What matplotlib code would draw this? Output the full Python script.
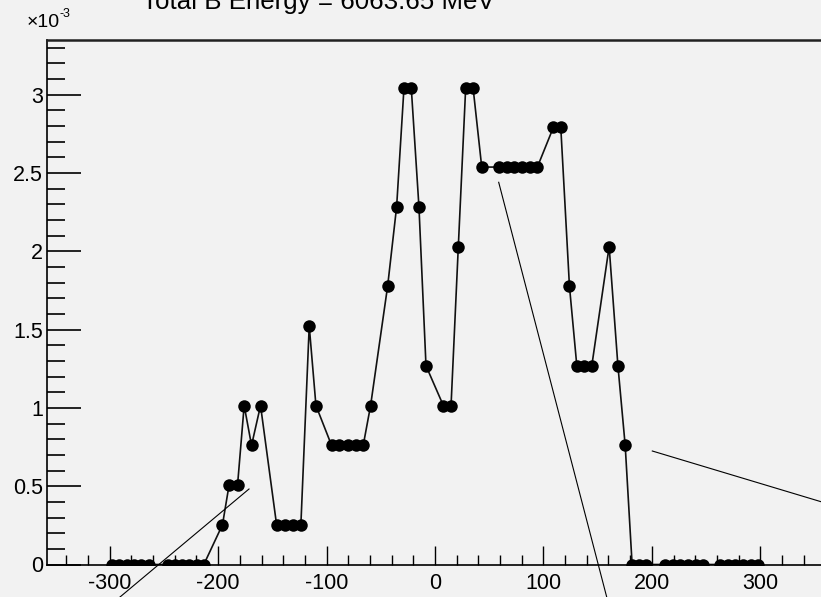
import numpy as np
import matplotlib
matplotlib.use('Agg')
import matplotlib.pyplot as plt
from matplotlib.lines import Line2D
from matplotlib.ticker import MultipleLocator, FuncFormatter

# Positions along the strip (mm) and deposited energy (x 1e-3)
x_pos = [-298.2, -291.3, -284.5, -277.7, -270.8, -264.0,
         -246.5, -239.8, -233.2, -226.5, -219.9, -213.2,
         -196.0, -189.9, -182.1, -176.0, -169.2, -160.9,
         -146.1, -138.5, -131.4, -123.7, -116.0, -109.8,
         -95.4, -88.3, -80.6, -73.2, -66.2, -59.4,
         -43.7, -35.4, -28.6, -21.9, -14.8, -8.3,
         7.7, 14.8, 21.5, 28.3, 35.1, 43.1,
         59.4, 66.2, 73.2, 80.3, 87.7, 94.4,
         109.2, 116.0, 124.0, 130.8, 137.8, 144.6,
         160.6, 168.7, 175.4, 181.8, 188.3, 194.8,
         212.3, 219.3, 226.3, 233.4, 240.4, 247.4,
         263.1, 270.1, 277.1, 284.1, 291.2, 298.2]

energy = [0, 0, 0, 0, 0, 0,
          0, 0, 0, 0, 0, 0,
          0.254, 0.508, 0.508, 1.015, 0.761, 1.015,
          0.254, 0.254, 0.254, 0.254, 1.523, 1.015,
          0.761, 0.761, 0.761, 0.761, 0.761, 1.015,
          1.777, 2.284, 3.045, 3.045, 2.284, 1.269,
          1.015, 1.015, 2.030, 3.045, 3.045, 2.538,
          2.538, 2.538, 2.538, 2.538, 2.538, 2.538,
          2.792, 2.792, 1.777, 1.269, 1.269, 1.269,
          2.030, 1.269, 0.761, 0, 0, 0,
          0, 0, 0, 0, 0, 0,
          0, 0, 0, 0, 0, 0]

title = 'Total B Energy = 6063.65 MeV'

BG = '#f2f2f2'
plt.rcParams['font.family'] = ['Liberation Sans', 'DejaVu Sans']

W, H = 821, 597
fig = plt.figure(figsize=(W / 100, H / 100), dpi=100, facecolor=BG)

# frame in pixel units: left 47, right 823, top 40, bottom 564.5
left, right, top, bottom = 47, 823, 40, 564.5
ax = fig.add_axes([left / W, (H - bottom) / H, (right - left) / W, (bottom - top) / H])
ax.set_facecolor(BG)

ax.plot(x_pos, energy, '-', color='#111111', linewidth=1.2)
ax.plot(x_pos, energy, 'o', color='black', markersize=9, markeredgewidth=0)

span = max(x_pos) - min(x_pos)
ax.set_xlim(min(x_pos) - 0.1 * span, max(x_pos) + 0.1 * span)
ax.set_ylim(0, 1.1 * max(energy))

ax.xaxis.set_major_locator(MultipleLocator(100))
ax.xaxis.set_minor_locator(MultipleLocator(20))
ax.yaxis.set_major_locator(MultipleLocator(0.5))
ax.yaxis.set_minor_locator(MultipleLocator(0.1))
ax.yaxis.set_major_formatter(FuncFormatter(lambda v, p: f'{v:g}'))
ax.xaxis.set_major_formatter(FuncFormatter(lambda v, p: f'{v:g}'))

ax.tick_params(axis='x', which='major', direction='in', length=14, width=1,
               labelsize=15.5, pad=6, top=False)
ax.tick_params(axis='x', which='minor', direction='in', length=7, width=1, top=False)
ax.tick_params(axis='y', which='major', direction='in', length=24.5, width=1.2,
               labelsize=15.5, pad=3, right=False)
ax.tick_params(axis='y', which='minor', direction='in', length=13, width=1.2, right=False)

for s in ['left', 'bottom']:
    ax.spines[s].set_linewidth(1.2)
    ax.spines[s].set_color('black')
ax.spines['top'].set_linewidth(1.8)
ax.spines['top'].set_color('#222222')
ax.spines['right'].set_visible(False)

# exponent marker above the y axis
fig.text(27 / W, 1 - 27 / H, '\u00d710', fontsize=14, ha='left', va='baseline')
fig.text(59.5 / W, 1 - 17 / H, '-3', fontsize=9, ha='left', va='baseline')

# title, partly above the canvas
fig.text(318 / W, 1 - 9 / H, title, fontsize=18.6, ha='center', va='baseline')

# guide lines drawn across the canvas
guides = [((120, 597), (249, 489)),
          ((498.7, 182.3), (606.7, 597)),
          ((652.3, 451), (821, 501.7))]
for (x0, y0), (x1, y1) in guides:
    fig.add_artist(Line2D([x0 / W, x1 / W], [1 - y0 / H, 1 - y1 / H],
                          transform=fig.transFigure, color='black', linewidth=0.8))

fig.savefig('out.png', dpi=100, facecolor=BG)
